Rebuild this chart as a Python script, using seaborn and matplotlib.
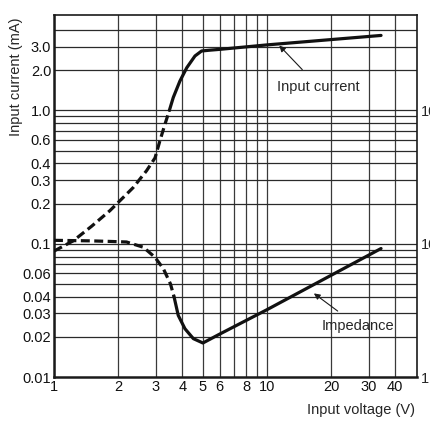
import numpy as np
import pandas as pd
import matplotlib
matplotlib.use("Agg")
import matplotlib.pyplot as plt
import seaborn as sns

# values (log-log)
cur_dash_v = [1.0, 1.23, 1.5, 1.83, 2.35, 2.72, 2.98, 3.14, 3.32, 3.48]
cur_dash_i = [0.088, 0.105, 0.135, 0.177, 0.263, 0.353, 0.44, 0.59, 0.79, 1.0]
cur_solid_v = [3.48, 3.63, 3.90, 4.20, 4.59, 4.93, 5.4, 6.0, 10.0, 34.3]
cur_solid_i = [1.0, 1.25, 1.66, 2.09, 2.56, 2.79, 2.83, 2.87, 3.1, 3.65]

imp_dash_v = [1.0, 1.5, 1.83, 2.19, 2.63, 2.98, 3.26, 3.52, 3.66]
imp_dash_z = [0.106, 0.105, 0.104, 0.103, 0.094, 0.079, 0.065, 0.050, 0.040]
imp_solid_v = [3.66, 3.83, 4.12, 4.51, 5.0, 6.0, 10.0, 34.3]
imp_solid_z = [0.040, 0.029, 0.023, 0.0194, 0.018, 0.021, 0.032, 0.092]

x_ticks = [1, 2, 3, 4, 5, 6, 8, 10, 20, 30, 40]
x_grid = [1, 2, 3, 4, 5, 6, 7, 8, 9, 10, 20, 30, 40]
y_ticks = [0.01, 0.02, 0.03, 0.04, 0.06, 0.1, 0.2, 0.3, 0.4, 0.6, 1.0, 2.0, 3.0]
y_labels = ["0.01", "0.02", "0.03", "0.04", "0.06", "0.1", "0.2", "0.3", "0.4", "0.6", "1.0", "2.0", "3.0"]
y_grid = [0.02, 0.03, 0.04, 0.05, 0.06, 0.07, 0.08, 0.09, 0.1,
          0.2, 0.3, 0.4, 0.5, 0.6, 0.7, 0.8, 0.9, 1.0, 2.0, 3.0, 4.0]
right_ticks = [0.01, 0.1, 1.0]
right_labels = ["1", "10", "100"]

sns.set_style("white")
plt.rcParams["font.family"] = ["Liberation Sans", "DejaVu Sans"]

fig = plt.figure(figsize=(4.30, 4.21), dpi=100)
ax = fig.add_axes([0.1256, 0.1045, 0.8442, 0.8600])
ax.set_xscale("log")
ax.set_yscale("log")
ax.set_xlim(1, 50.6)
ax.set_ylim(0.01, 5.2)

# grid lines
for gx in x_grid:
    ax.axvline(gx, color="#3a3a3a", lw=0.9, zorder=1)
for gy in y_grid:
    ax.axhline(gy, color="#2a2a2a", lw=0.9, zorder=1)

lw = 2.3
sns.lineplot(x=cur_dash_v, y=cur_dash_i, ax=ax, color="#111111", lw=lw,
             linestyle=(0, (2.8, 1.4)), sort=False, zorder=3)
sns.lineplot(x=cur_solid_v, y=cur_solid_i, ax=ax, color="#111111", lw=lw,
             sort=False, zorder=3)
sns.lineplot(x=imp_dash_v, y=imp_dash_z, ax=ax, color="#111111", lw=lw,
             linestyle=(0, (2.8, 1.4)), sort=False, zorder=3)
sns.lineplot(x=imp_solid_v, y=imp_solid_z, ax=ax, color="#111111", lw=lw,
             sort=False, zorder=3)

ax.set_xticks(x_ticks)
ax.set_xticklabels([str(t) for t in x_ticks])
ax.xaxis.set_minor_locator(matplotlib.ticker.NullLocator())
ax.set_yticks(y_ticks)
ax.set_yticklabels(y_labels)
ax.yaxis.set_minor_locator(matplotlib.ticker.NullLocator())
ax.tick_params(axis="both", length=0, labelsize=10.5, colors="#111111", pad=2)
ax.tick_params(axis="x", pad=2)

for side, s in ax.spines.items():
    s.set_color("#1a1a1a")
    s.set_linewidth(1.2)
ax.spines["left"].set_linewidth(1.8)
ax.spines["bottom"].set_linewidth(1.8)

ax2 = ax.twinx()
ax2.set_yscale("log")
ax2.set_ylim(ax.get_ylim())
ax2.set_yticks(right_ticks)
ax2.set_yticklabels(right_labels)
ax2.yaxis.set_minor_locator(matplotlib.ticker.NullLocator())
ax2.tick_params(axis="y", length=0, labelsize=10.5, pad=3)
for s in ax2.spines.values():
    s.set_visible(False)

ax.set_ylabel("Input current (mA)", fontsize=10.5)
ax.yaxis.set_label_coords(-0.086, 0.83)
fig.text(0.966, 0.026, "Input voltage (V)", ha="right", va="center", fontsize=10.5)

ax.annotate("Input current", xy=(11.3, 3.12), xytext=(17.5, 1.5),
            ha="center", va="center", fontsize=10.5,
            arrowprops=dict(arrowstyle="-|>", color="#1a1a1a", lw=0.8,
                            mutation_scale=9, shrinkA=7, shrinkB=1),
            zorder=5)
ax.annotate("Impedance", xy=(16.4, 0.043), xytext=(26.8, 0.024),
            ha="center", va="center", fontsize=10.5,
            arrowprops=dict(arrowstyle="-|>", color="#1a1a1a", lw=0.8,
                            mutation_scale=9, shrinkA=6, shrinkB=1),
            zorder=5)

fig.savefig("out.png", dpi=100)
